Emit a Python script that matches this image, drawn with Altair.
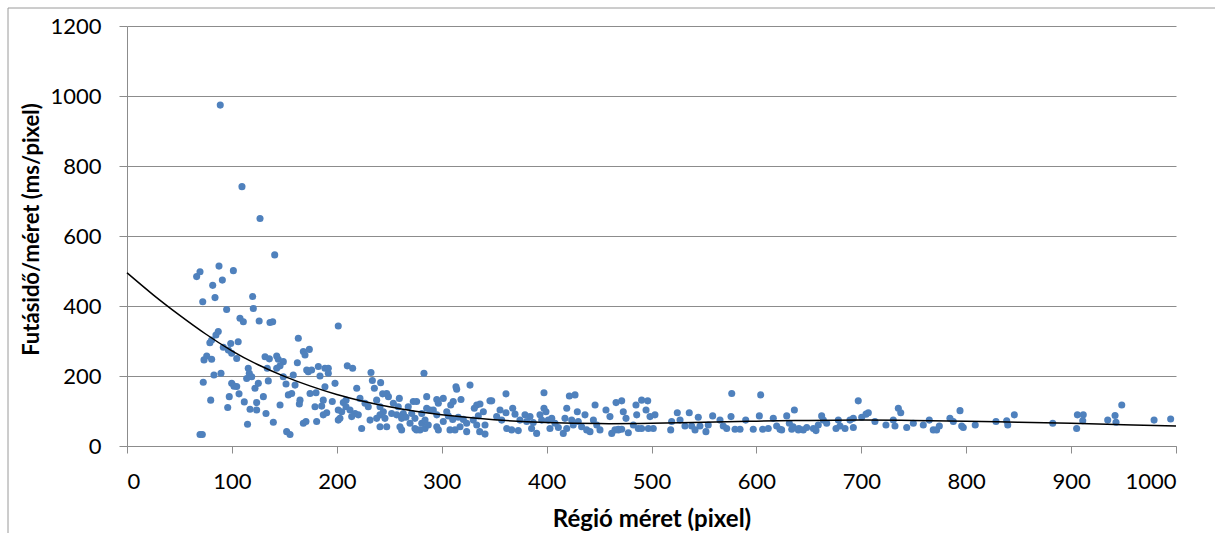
import altair as alt
import pandas as pd

# Region size (pixel) of each measured sample
region_size = [
    88.9, 109.6, 126.8,
    66.4, 69.6, 87.7, 101.4, 90.9, 81.7, 72.2, 83.9, 119.8, 120.4, 95.0, 107.7, 110.9, 126.0,
    87.0, 84.8, 80.7, 79.0, 106.0, 98.9, 91.8, 96.6, 99.8, 104.6, 76.0, 73.4, 80.7, 115.6,
    116.6, 114.1, 118.9, 89.6, 82.9, 72.7, 99.8, 102.0, 104.6, 122.0, 125.2, 97.5, 106.8,
    79.8, 111.8, 123.6, 96.0, 117.3, 123.6, 114.9, 69.6, 71.8,
    140.8, 136.3, 138.9, 131.6, 135.7, 142.7, 144.2, 149.0, 145.9, 142.7, 133.7, 163.3, 168.1,
    169.7, 173.8, 162.4, 149.0, 158.5, 160.2, 151.6, 134.7, 130.0, 132.5, 139.5, 145.9, 153.8,
    157.0, 164.9, 164.3, 171.3, 172.8, 176.0, 182.4, 188.7, 191.9, 184.0, 191.9, 174.5, 180.2,
    188.7, 198.3, 201.4, 187.1, 195.7, 185.6, 179.2, 190.4, 187.1, 180.8, 168.1, 170.6, 152.2,
    155.4, 201.4, 201.4,
    210.0, 215.1, 232.6, 233.9, 241.8, 235.8, 219.0, 208.8, 206.2, 208.8, 212.6, 217.4, 220.5,
    214.2, 204.7, 203.0, 222.1, 226.9, 230.0, 231.7, 238.0, 241.2, 244.4, 247.6, 249.2, 243.7,
    253.9, 259.6, 258.6, 241.2, 238.0, 245.9, 247.6, 241.2, 223.7, 252.3, 257.1, 263.4, 261.8,
    265.9, 268.1, 272.9, 276.1, 271.4, 274.5, 269.8, 274.5, 279.3, 284.1, 281.0, 284.1, 287.2,
    281.0, 285.7, 288.8, 292.0, 283.1, 285.7, 295.3, 295.3, 295.3, 296.8, 301.5, 260.2, 261.8,
    276.0, 296.8,
    327.0, 313.6, 314.3, 318.4, 311.0, 308.6, 333.4, 336.5, 331.1, 346.0, 304.8, 306.3, 310.5,
    315.8, 320.6, 323.8, 330.1, 334.9, 339.7, 333.4, 341.3, 336.2, 341.3, 323.8, 312.7, 307.9,
    317.5, 301.5,
    347.7, 361.3, 367.7, 369.9, 361.3, 355.6, 352.4, 357.2, 362.0, 366.7, 373.0, 374.6, 379.4,
    384.2, 381.0, 387.3, 390.5, 385.7, 393.7, 397.5, 399.4, 397.5, 395.3, 401.6, 404.9, 408.0,
    411.2, 403.2, 415.9, 419.2, 419.2, 421.7, 427.1, 429.3, 417.5, 423.9, 425.4, 430.2, 433.4,
    436.6, 438.2, 441.4, 444.6, 446.2, 447.8, 450.9, 456.6, 460.4, 462.1, 466.2, 468.4,
    471.6, 473.1, 475.7, 465.2, 468.4, 471.6, 477.9, 485.2, 490.6, 496.4, 485.9, 494.8, 498.6,
    503.3, 482.7, 487.4, 490.6, 497.0, 501.7, 518.3, 519.2, 524.6, 527.2, 531.9, 536.0, 538.3,
    541.5, 544.6, 546.2, 551.9, 554.1, 558.3, 565.3, 568.4, 571.7, 575.8, 576.5, 579.6, 584.4,
    589.8, 597.0, 602.8, 604.1, 606.0, 611.3, 616.1, 619.3, 624.1, 628.9, 631.4, 633.7, 636.2,
    640.0,
    622.5, 635.0, 640.5, 644.7, 648.0, 654.3, 656.8, 659.0, 662.2, 663.8, 667.0, 675.9, 678.1,
    679.7, 684.5, 689.2, 692.4, 692.4, 697.1, 700.4, 704.5, 706.7, 713.0, 723.5, 730.5, 732.1,
    735.3, 737.6, 743.3, 749.6, 759.1, 764.8, 768.6, 771.8, 774.4, 784.5, 787.7, 794.1, 795.7,
    797.2, 808.6,
    828.4, 838.6, 839.6, 845.9, 882.5, 905.3, 906.0, 911.6, 911.1, 934.9, 941.9, 942.8, 948.3,
    979.1, 994.9,
]

# Runtime per region size (ms/pixel), same order as region_size
runtime_per_size = [
    974, 741, 650,
    484, 498, 514, 501, 474, 459, 412, 424, 427, 393, 390, 365, 355, 357,
    327, 317, 303, 295, 298, 293, 282, 274, 265, 250, 257, 246, 248, 222,
    208, 193, 198, 208, 203, 182, 179, 171, 170, 165, 179, 141, 149,
    131, 126, 124, 110, 105, 103, 62, 33, 33,
    546, 353, 355, 255, 249, 257, 248, 241, 229, 222, 222, 308, 270,
    260, 276, 238, 198, 203, 174, 177, 186, 141, 93, 68, 117, 146,
    150, 131, 120, 217, 212, 217, 227, 222, 222, 200, 208, 150, 152,
    169, 179, 343, 131, 127, 114, 112, 95, 89, 70, 65, 70, 41,
    33, 103, 74,
    229, 222, 210, 187, 181, 165, 165, 131, 124, 112, 103, 93, 89,
    84, 98, 79, 136, 122, 112, 74, 131, 112, 98, 150, 141, 149,
    122, 136, 112, 89, 79, 79, 55, 55, 50, 93, 89, 93, 79,
    82, 112, 127, 127, 93, 79, 65, 50, 46, 50, 65, 74, 60,
    93, 108, 103, 103, 208, 141, 89, 55, 133, 122, 136, 55, 46,
    46, 46,
    174, 169, 162, 133, 127, 117, 117, 120, 108, 129, 98, 86, 76,
    82, 76, 65, 74, 86, 98, 60, 60, 41, 34, 41, 46, 46,
    55, 70,
    129, 149, 108, 91, 95, 103, 84, 74, 50, 46, 44, 74, 89,
    84, 70, 67, 36, 50, 89, 108, 98, 152, 74, 74, 79, 65,
    53, 50, 36, 50, 108, 143, 146, 98, 79, 74, 60, 70, 55,
    89, 46, 41, 74, 117, 60, 46, 103, 84, 36, 124, 46,
    129, 98, 79, 46, 48, 48, 38, 117, 131, 129, 89, 103, 84,
    89, 60, 50, 50, 50, 50, 46, 70, 95, 74, 57, 95, 57,
    46, 82, 57, 41, 60, 86, 74, 57, 50, 84, 150, 48, 48,
    74, 48, 86, 146, 48, 50, 79, 57, 46, 86, 65, 48, 103,
    46,
    48, 55, 50, 46, 53, 50, 44, 60, 86, 74, 65, 50, 74,
    57, 50, 74, 79, 53, 129, 82, 91, 95, 70, 60, 74, 57,
    108, 95, 53, 65, 60, 74, 46, 46, 57, 79, 70, 101, 57,
    53, 60,
    70, 72, 60, 89, 65, 50, 89, 89, 72, 74, 87, 68, 117,
    74, 77,
]

# Fitted trend curve, sampled along the x range
trend_x = [0, 25, 50, 75, 100, 125, 150, 175, 200, 225, 250, 275, 300, 350, 400, 450,
           500, 550, 600, 650, 700, 750, 800, 850, 900, 950, 1000]
trend_y = [495, 432, 374, 320, 272, 232, 199, 171, 147, 128, 112, 99, 89, 75, 67, 64,
           65, 68, 71, 73, 74, 73, 71, 68, 65, 61, 57]

points = pd.DataFrame({"size": region_size, "rt": runtime_per_size})
trend = pd.DataFrame({"size": trend_x, "rt": trend_y})

FONT = "Lato"
GRID = "#8c8c8c"

x_scale = alt.Scale(domain=[0, 1000], nice=False, zero=True)
y_scale = alt.Scale(domain=[0, 1200], nice=False, zero=True)

x_axis = alt.Axis(
    title="Régió méret (pixel)",
    values=list(range(0, 1001, 100)),
    format="d",
    grid=False,
    domainColor=GRID,
    tickColor=GRID,
    tickSize=7,
    labelPadding=18,
    labelFontSize=22,
    labelColor="#000000",
    labelFont=FONT,
    titleFont=FONT,
    titleFontSize=24,
    titleFontWeight="bold",
    titleColor="#000000",
    titleBaseline="alphabetic",
    titleY=80,
)

y_axis = alt.Axis(
    title="Futásidő/méret (ms/pixel)",
    values=list(range(0, 1201, 200)),
    format="d",
    grid=True,
    gridColor=GRID,
    gridWidth=1,
    domainColor=GRID,
    tickColor=GRID,
    tickSize=8,
    labelPadding=18,
    labelFontSize=22,
    labelColor="#000000",
    labelFont=FONT,
    titleFont=FONT,
    titleFontSize=22,
    titleFontWeight="bold",
    titleColor="#000000",
    titleBaseline="alphabetic",
    titleX=-89,
    titleY=203,
)

scatter = alt.Chart(points).mark_circle(size=50, color="#4f81bd", opacity=1).encode(
    x=alt.X("size:Q", scale=x_scale, axis=x_axis),
    y=alt.Y("rt:Q", scale=y_scale, axis=y_axis),
)

trend_line = alt.Chart(trend).mark_line(color="#000000", strokeWidth=1.5, interpolate="natural").encode(
    x=alt.X("size:Q", scale=x_scale),
    y=alt.Y("rt:Q", scale=y_scale),
)

# Thin frame along the top and left edges of the chart area
frame = alt.Data(values=[{}])
frame_top = alt.Chart(frame).mark_rule(color="#9a9a9a", strokeWidth=1).encode(
    x=alt.value(-119), x2=alt.value(1100), y=alt.value(-18)
)
frame_left = alt.Chart(frame).mark_rule(color="#9a9a9a", strokeWidth=1).encode(
    x=alt.value(-119), y=alt.value(-18), y2=alt.value(520)
)

chart = alt.layer(scatter, trend_line, frame_top, frame_left).properties(
    width=1049,
    height=420,
    autosize=alt.AutoSizeParams(type="none"),
    padding={"left": 127, "top": 26, "right": 39, "bottom": 87},
    background="#ffffff",
).configure_view(strokeWidth=0)

chart.save("out.html", embed_options={"renderer": "svg", "actions": False})
